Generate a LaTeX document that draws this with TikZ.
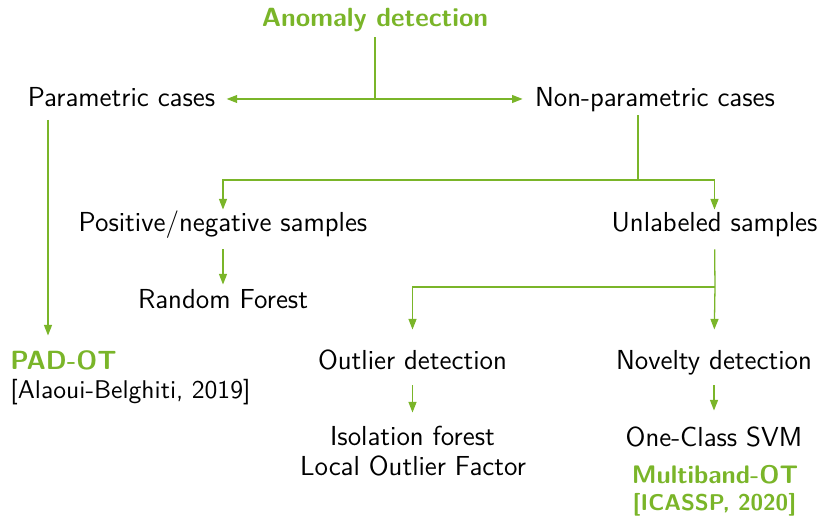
\documentclass[tikz,border=0pt]{standalone}
\usetikzlibrary{arrows.meta}
\definecolor{grn}{RGB}{122,181,41}
\newlength\pxu
\setlength\pxu{0.4256pt}
\begin{document}
\begin{tikzpicture}[x=1\pxu,y=-1\pxu,
  font=\sffamily\fontsize{11.7}{14}\selectfont,
  lbl/.style={inner sep=0pt,text height=8.1pt,text depth=0pt,anchor=base},
  hi/.style={lbl,text=grn,font=\sffamily\bfseries\fontsize{11.2}{13}\selectfont},
  conn/.style={draw=grn,line width=0.55pt},
  arr/.style={conn,-{Triangle[length=4.5pt,width=3.4pt]}}]
\useasboundingbox (0,0) rectangle (820,517);
% nodes
\node[hi]  (anom)     at (375,27)  {Anomaly detection};
\node[lbl] (param)    at (121.5,107) {Parametric cases};
\node[lbl] (nonparam) at (655,107) {Non-parametric cases};
\node[lbl] (pos)      at (223,232) {Positive/negative samples};
\node[lbl] (unl)      at (714.5,232) {Unlabeled samples};
\node[lbl] (rf)       at (223,309) {Random Forest};
\node[lbl] (out)      at (412.5,370) {Outlier detection};
\node[lbl] (nov)      at (714,370) {Novelty detection};
\node[lbl] (iso)      at (412.5,446) {Isolation forest};
\node[lbl] (lof)      at (413,476) {Local Outlier Factor};
\node[lbl] (ocs)      at (714,447) {One-Class SVM};
\node[hi,font=\sffamily\bfseries\fontsize{10.8}{12}\selectfont,text height=7.5pt] (mb) at (715,484) {Multiband-OT};
\node[hi,font=\sffamily\bfseries\fontsize{9.7}{12}\selectfont,text height=6.7pt] (icassp) at (714.5,511) {[ICASSP, 2020]};
\node[hi,anchor=base west]  (pad)    at (10,370) {PAD-OT};
\node[lbl,anchor=base west,font=\sffamily\fontsize{10.9}{13}\selectfont] (alaoui) at (10,399) {[Alaoui-Belghiti, 2019]};
% junctions
\coordinate (j1) at (375,99);
\coordinate (j2) at (638,180);
\coordinate (j3) at (715,287);
\coordinate (pv) at (48,107);
% connectors
\draw[conn,shorten <=10\pxu] (anom.south) -- (j1);
\draw[arr,shorten >=11\pxu] (j1) -- (j1 -| param.east);
\draw[arr,shorten >=12\pxu] (j1) -- (j1 -| nonparam.west);
\draw[conn,shorten <=8\pxu] (nonparam.south -| j2) -- (j2);
\draw[arr,shorten >=3\pxu] (j2) -| (pos.north);
\draw[arr,shorten >=3\pxu] (j2) -| (unl.north);
\draw[arr,shorten <=17\pxu,shorten >=5\pxu] (pos.south) -- (rf.north);
\draw[conn,shorten <=17\pxu] (unl.south) -- (j3);
\draw[arr,shorten >=21\pxu] (j3) -- (nov.north);
\draw[arr,shorten >=21\pxu] (j3) -| (out.north);
\draw[arr,shorten <=15\pxu,shorten >=14\pxu] (out.south) -- (iso.north);
\draw[arr,shorten <=15\pxu,shorten >=17\pxu] (nov.south) -- (ocs.north);
\draw[arr,shorten <=13\pxu,shorten >=15\pxu] (pv) -- (pv |- pad.north);
\end{tikzpicture}
\end{document}
